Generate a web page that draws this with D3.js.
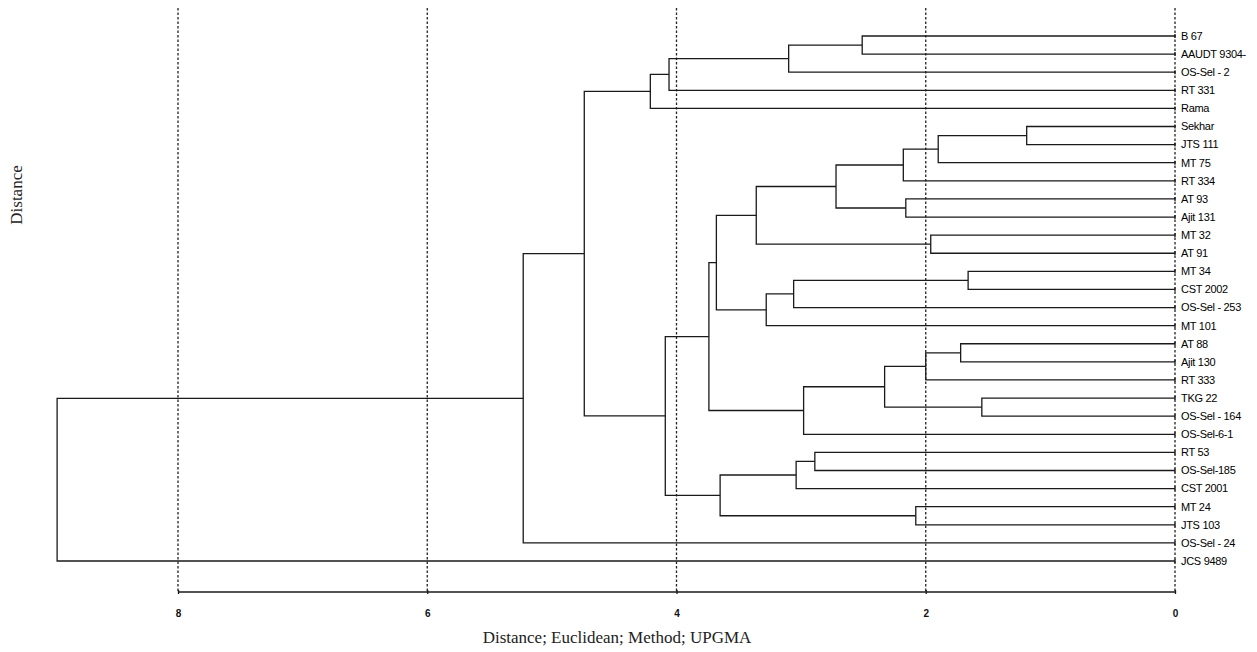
<!DOCTYPE html>
<html>
<head>
<meta charset="utf-8">
<script src="https://cdn.jsdelivr.net/npm/d3@7"></script>
<style>
  body { margin: 0; background: #fff; }
  svg { display: block; }
</style>
</head>
<body>
<div id="chart"></div>
<script>
// leaf labels, top to bottom
const leaves = ["B 67", "AAUDT 9304-", "OS-Sel - 2", "RT 331", "Rama", "Sekhar", "JTS 111",
  "MT 75", "RT 334", "AT 93", "Ajit 131", "MT 32", "AT 91", "MT 34", "CST 2002",
  "OS-Sel - 253", "MT 101", "AT 88", "Ajit 130", "RT 333", "TKG 22", "OS-Sel - 164",
  "OS-Sel-6-1", "RT 53", "OS-Sel-185", "CST 2001", "MT 24", "JTS 103", "OS-Sel - 24", "JCS 9489"];

// merge table (hclust style): negative = leaf number, positive = earlier merge number
const mergeLeft  = [-6, -21, -14, -18, 1, -12, 4, -27, -10, 5, 7, -1, 10, -24, 11, 14, 3, 12, 17, 13, 16, 20, 22, 18, 23, 24, 26, 27, 28];
const mergeRight = [-7, -22, -15, -19, -8, -13, -20, -28, -11, -9, 2, -2, 9, -25, -23, -26, -16, -3, -17, 6, 8, 19, 15, -4, 21, -5, 25, -29, -30];
const mergeHeight = [1.19, 1.55, 1.66, 1.72, 1.90, 1.96, 2.00, 2.08, 2.16, 2.18, 2.33, 2.51, 2.72, 2.89, 2.98,
  3.04, 3.06, 3.10, 3.28, 3.36, 3.65, 3.68, 3.74, 4.06, 4.09, 4.21, 4.74, 5.23, 8.97];

const ticks = [8, 6, 4, 2, 0];

const width = 1257, height = 652;
const svg = d3.select("#chart").append("svg")
    .attr("width", width)
    .attr("height", height);

// scales
const x = d3.scaleLinear().domain([8, 0]).range([178, 1175]);
const y = d3.scalePoint().domain(leaves).range([36, 561]);
const axisY = 592;

// dotted grid lines
svg.selectAll(".grid")
    .data(ticks)
    .enter()
    .append("line")
    .attr("class", "grid")
    .attr("x1", d => x(d)).attr("x2", d => x(d))
    .attr("y1", 8).attr("y2", axisY)
    .attr("stroke", "#222")
    .attr("stroke-width", 1.3)
    .attr("stroke-dasharray", "2.5,2");

// build node positions from merge table
const nodes = [];
function pos(ref) {
    if (ref < 0) return { x: x(0), y: y(leaves[-ref - 1]) };
    return nodes[ref - 1];
}

const g = svg.append("g")
    .attr("fill", "none")
    .attr("stroke", "#1a1a1a")
    .attr("stroke-width", 1.3);

mergeHeight.forEach((h, i) => {
    const a = pos(mergeLeft[i]), b = pos(mergeRight[i]);
    const nx = x(h);
    const ny = (a.y + b.y) / 2;
    nodes.push({ x: nx, y: ny });
    g.append("path")
        .attr("d", `M${a.x},${a.y}H${nx}V${b.y}H${b.x}`);
});

// small end ticks on each leaf
g.selectAll(".leaf-tick")
    .data(leaves)
    .enter()
    .append("line")
    .attr("x1", x(0)).attr("x2", x(0))
    .attr("y1", d => y(d) - 2).attr("y2", d => y(d) + 2);

// leaf labels
svg.selectAll(".leaf-label")
    .data(leaves)
    .enter()
    .append("text")
    .attr("class", "leaf-label")
    .attr("x", x(0) + 6)
    .attr("y", d => y(d))
    .attr("dy", "0.35em")
    .style("font-family", "'Liberation Sans', Arial, sans-serif")
    .style("font-size", "11px")
    .style("letter-spacing", "-0.3px")
    .attr("fill", "#000")
    .text(d => d);

// bottom axis
const axis = d3.axisBottom(x).tickValues(ticks).tickSize(4).tickSizeOuter(0).tickPadding(16);
const ax = svg.append("g")
    .attr("transform", `translate(0,${axisY - 2})`)
    .call(axis);
ax.select(".domain").attr("stroke", "#1a1a1a").attr("stroke-width", 1.3).attr("d", `M${x(8)},2H${x(0)}`);
ax.selectAll(".tick line").attr("stroke", "#1a1a1a").attr("stroke-width", 1.3);
ax.selectAll(".tick text")
    .style("font-family", "'Liberation Sans', Arial, sans-serif")
    .style("font-size", "10px")
    .style("font-weight", "bold")
    .attr("fill", "#111");

// axis titles
svg.append("text")
    .attr("x", 617)
    .attr("y", 643)
    .attr("text-anchor", "middle")
    .style("font-family", "'Liberation Serif', 'Times New Roman', serif")
    .style("font-size", "17px")
    .attr("fill", "#222")
    .text("Distance; Euclidean; Method; UPGMA");

svg.append("text")
    .attr("transform", "translate(22,195) rotate(-90)")
    .attr("text-anchor", "middle")
    .style("font-family", "'Liberation Serif', 'Times New Roman', serif")
    .style("font-size", "17px")
    .attr("fill", "#222")
    .text("Distance");
</script>
</body>
</html>
